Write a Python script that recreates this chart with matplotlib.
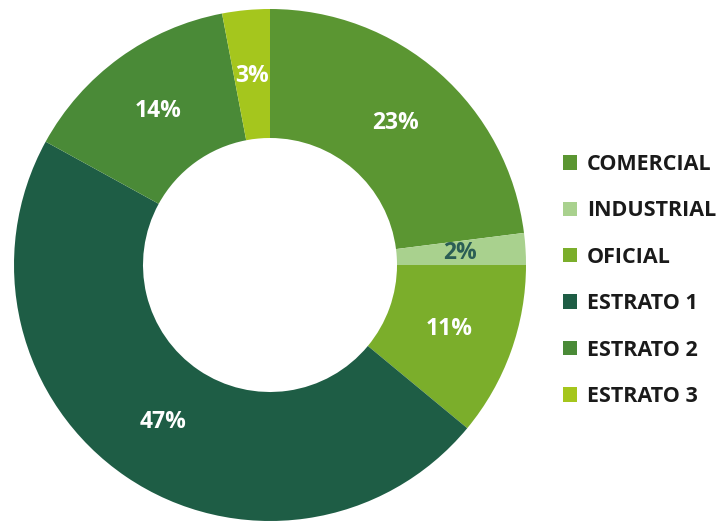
import matplotlib.pyplot as plt

categories = ['COMERCIAL', 'INDUSTRIAL', 'OFICIAL', 'ESTRATO 1', 'ESTRATO 2', 'ESTRATO 3']
shares = [23, 2, 11, 47, 14, 3]
colors = ['#5b9632', '#a9d18e', '#7bae2b', '#1e5d45', '#4a8a37', '#a5c61d']
label_colors = ['white', '#2b5e55', 'white', 'white', 'white', 'white']

plt.rcParams['font.family'] = ['Open Sans', 'DejaVu Sans']

fig = plt.figure(figsize=(7.2, 5.21), dpi=100)
ax = fig.add_axes([0, 0, 1, 1])

# pixel-like data coords so the ring sits where we want it
wedges, texts, autotexts = ax.pie(
    shares, colors=colors, startangle=90, counterclock=False,
    center=(270, 256), radius=256,
    wedgeprops=dict(width=129, linewidth=0),
    autopct='%.0f%%', pctdistance=0.742,
    textprops=dict(fontsize=16.5, fontweight='bold'))
for t, c in zip(autotexts, label_colors):
    t.set_color(c)

ax.set_xlim(0, 720)
ax.set_ylim(0, 521)
ax.axis('off')

leg = ax.legend(wedges, categories, loc='upper left',
                bbox_to_anchor=(563 / 720, 1 - 154 / 521),
                frameon=False, fontsize=15.5,
                handlelength=0.65, handleheight=0.65, handletextpad=0.47,
                labelspacing=1.18, borderpad=0, borderaxespad=0)
for t in leg.get_texts():
    t.set_fontweight('bold')
    t.set_color('#1a1a1a')

fig.savefig('out.png', dpi=100)
